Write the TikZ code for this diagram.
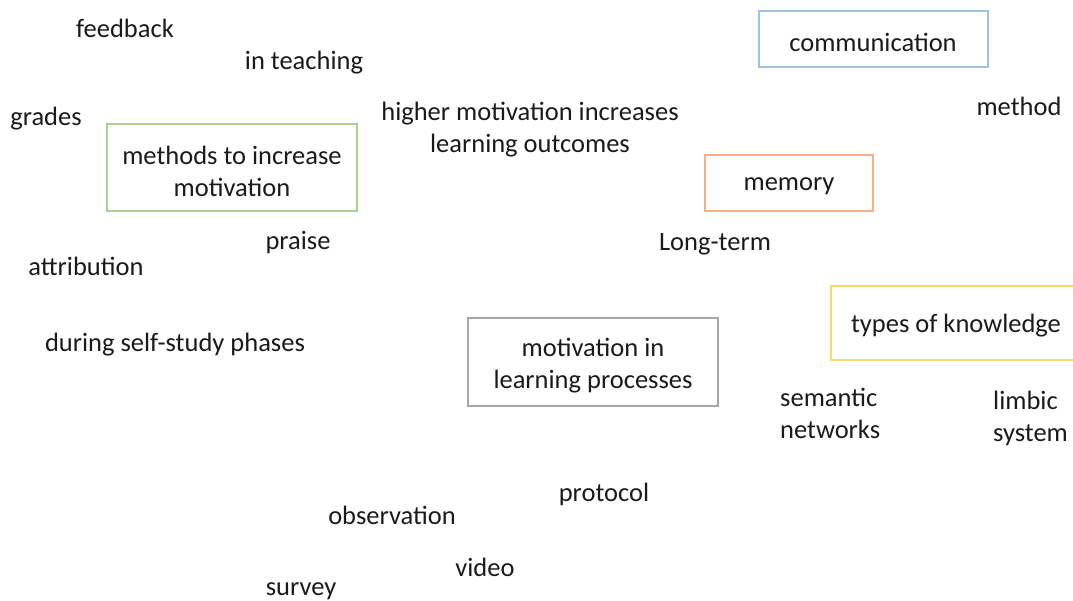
\documentclass[tikz,border=0pt]{standalone}
\usepackage{fontspec}
\setmainfont{Carlito}
\definecolor{cgreen}{HTML}{A9D18E}
\definecolor{cblue}{HTML}{9DC3E6}
\definecolor{corange}{HTML}{F4B183}
\definecolor{cyellow}{HTML}{FFD966}
\definecolor{cgray}{HTML}{A6A6A6}
\definecolor{ctext}{HTML}{1A1A1A}
\begin{document}
\begin{tikzpicture}[x=1pt,y=-1pt,
  every node/.style={font=\fontsize{26.5}{32}\selectfont, text=ctext, inner sep=0pt},
  word/.style={align=center},
  leftword/.style={align=left, anchor=west},
  frame/.style={draw, line width=2pt}]
\useasboundingbox (0,0) rectangle (1073,600);
% boxes
\draw[frame, cgreen] (107,124) rectangle (357,211);
\node[word] (methods) at (232,171) {methods to increase\\motivation};
\draw[frame, cblue] (759,11) rectangle (988,67);
\node[word] (comm) at (873,42) {communication};
\draw[frame, corange] (705,155) rectangle (873,211);
\node[word] (memory) at (789,186) {memory};
\begin{scope}
\clip (0,0) rectangle (1073,600);
\draw[frame, cyellow] (831,286) rectangle (1090,360);
\end{scope}
\node[word] (types) at (956,326) {types of knowledge};
\draw[frame, cgray] (468,318) rectangle (718,406);
\node[word] (motiv) at (593,366) {motivation in\\learning processes};
% free words
\node[word] (feedback) at (125,28) {feedback};
\node[word] (teaching) at (304,63) {in teaching};
\node[word] (grades) at (46,119) {grades};
\node[word] (higher) at (530,130) {higher motivation increases\\learning outcomes};
\node[word] (method) at (1019,106) {method};
\node[word] (praise) at (298,243) {praise};
\node[word] (longterm) at (715,244) {Long-term};
\node[word] (attribution) at (86,266) {attribution};
\node[word] (selfstudy) at (175,345) {during self-study phases};
\node[leftword] (semantic) at (780,413) {semantic\\networks};
\node[leftword] (limbic) at (993,418) {limbic\\system};
\node[word] (protocol) at (604,494) {protocol};
\node[word] (observation) at (392,515) {observation};
\node[word] (video) at (485,567) {video};
\node[word] (survey) at (301,591) {survey};
\end{tikzpicture}
\end{document}
